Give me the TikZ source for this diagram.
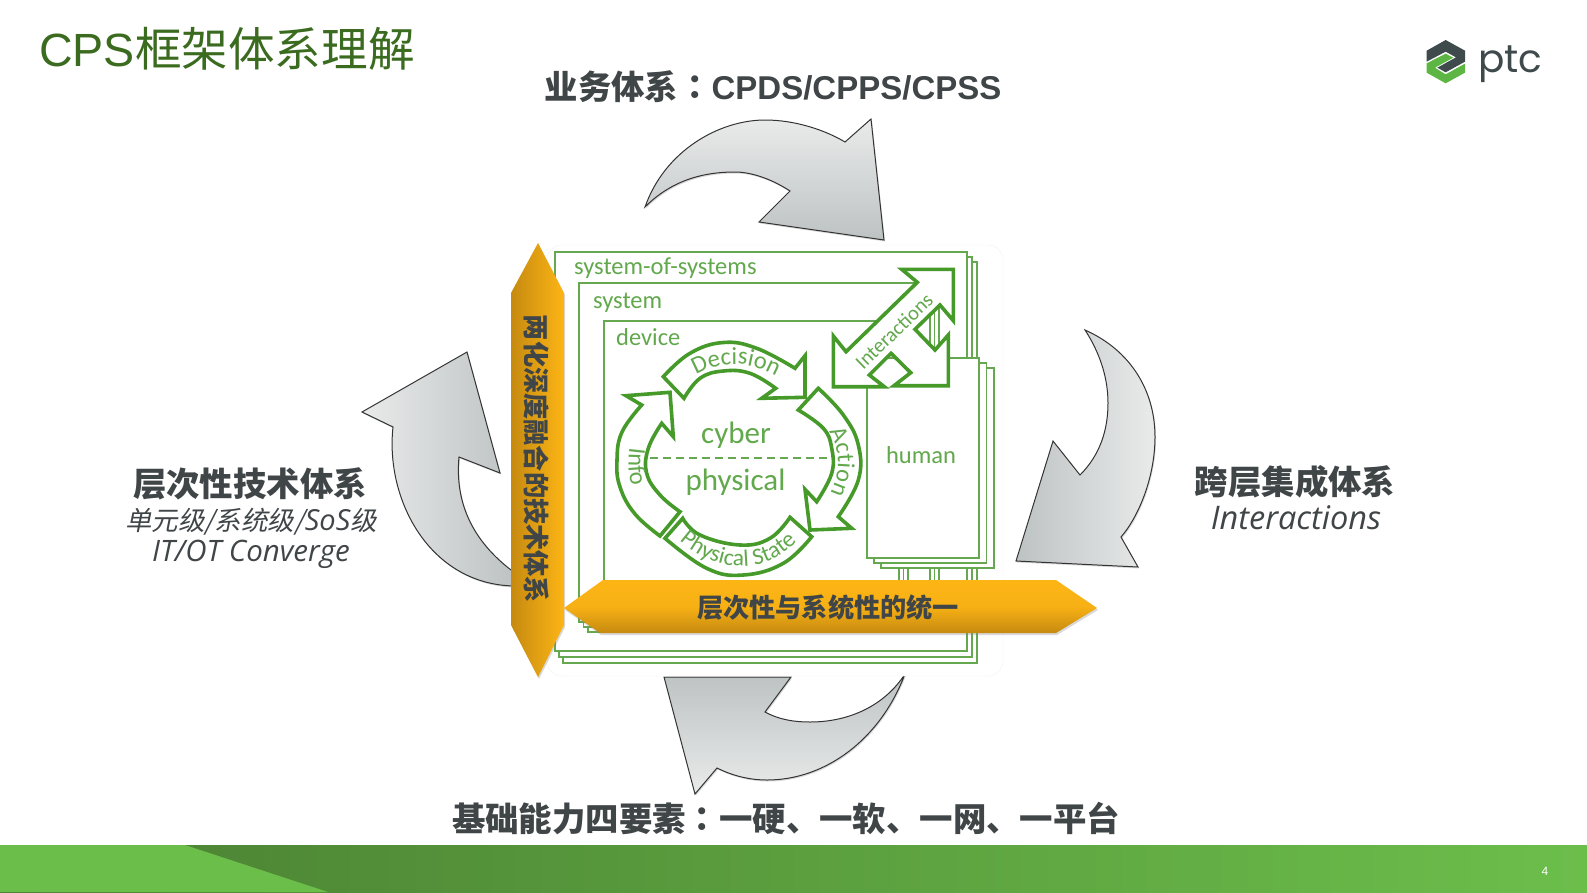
\documentclass[tikz,border=0pt]{standalone}
\usepackage{fontspec}
\setmainfont{Liberation Sans}
\newfontfamily\cjk{Noto Sans CJK SC}
\newfontfamily\cjktc{Noto Sans CJK TC}
\newfontfamily\cjkit[AutoFakeSlant=0.2]{Noto Sans CJK SC}
\newfontfamily\carlito{Carlito}
\newfontfamily\openit{Open Sans}
\newfontfamily\logofont{Poppins}
\usetikzlibrary{shadows,decorations.text}
\definecolor{titlegreen}{HTML}{3B6B1F}
\definecolor{headgrey}{HTML}{404547}
\definecolor{boxgreen}{HTML}{66A84F}
\definecolor{loopgreen}{HTML}{459A2A}
\definecolor{labelgreen}{HTML}{62A84C}
\definecolor{bandbright}{HTML}{FDB515}
\definecolor{banddark}{HTML}{C68A10}
\definecolor{arrowlight}{HTML}{E9EBEA}
\definecolor{arrowdark}{HTML}{BDC2C3}
\definecolor{footlight}{HTML}{6CBE4B}
\definecolor{footdark}{HTML}{4A7F32}
\definecolor{logodark}{HTML}{3F4A4C}
\definecolor{logogreen}{HTML}{5DB543}
\tikzset{
	greyarrow/.style={draw=black!80,line width=1pt,drop shadow={opacity=.3,shadow xshift=1pt,shadow yshift=-1.5pt}},
	bandarrow/.style={drop shadow={opacity=.3,shadow xshift=1pt,shadow yshift=-2pt}},
	stackbox/.style={draw=boxgreen,fill=white,line width=1.4pt},
	humanbox/.style={draw=boxgreen,fill=white,line width=1.1pt},
	loopshape/.style={draw=loopgreen,fill=white,line width=3.6pt,line join=miter},
	arcs/.style={smooth,tension=.7},
	boxlabel/.style={anchor=base west,text=labelgreen,font=\carlito\fontsize{24.5}{24.5}\selectfont},
	corelabel/.style={anchor=base,text=labelgreen,font=\carlito\fontsize{31}{31}\selectfont},
	headlabel/.style={text=headgrey,font=\cjk\bfseries\fontsize{33.4}{33.4}\selectfont},
	sublabel/.style={text=headgrey,font=\cjkit\itshape\fontsize{26.5}{26.5}\selectfont},
	bandlabel/.style={text=headgrey,font=\cjk\bfseries\fontsize{26.2}{26.2}\selectfont},
}
\newcommand{\arcfont}{\carlito\fontsize{24.5}{24.5}\selectfont\color{labelgreen}}
\newcommand{\stfont}{\carlito\fontsize{23.5}{23.5}\selectfont\color{labelgreen}}
\begin{document}
\begin{tikzpicture}[x=1pt,y=-1pt]
	\useasboundingbox (0,0) rectangle (1587,892);
	%footer
	\shade[left color=footdark,right color=footlight] (0,845) rectangle (1587,892);
	\fill[footlight] (0,845) -- (185,845) -- (328,892) -- (0,892) -- cycle;
	\node[text=white,font=\fontsize{12}{12}\selectfont] (pagenum) at (1545,871) {4};
	%title
	\node[anchor=base west,inner sep=0pt,text=titlegreen,font=\fontsize{46.6}{46.6}\selectfont] (title) at (39,66) {CPS{\cjk 框架体系理解}};
	%logo
	\begin{scope}[shift={(1380,20)},x=.3333pt,y=-.3333pt]
		\fill[logodark] (197,60) -- (255,92) -- (255,125) -- (197,157) -- (172,143) -- (228,112) -- (197,95) -- (140,125) -- (140,92) -- cycle;
		\fill[logogreen] (140,130) -- (197,101) -- (220,113) -- (165,143) -- (197,163) -- (255,131) -- (255,158) -- (197,190) -- (140,158) -- cycle;
	\end{scope}
	\node[anchor=base west,inner sep=0pt,text=logodark,font=\logofont\fontsize{39}{39}\selectfont] (ptc) at (1478,72) {ptc};
	%grey arrows
	\shade[greyarrow,top color=arrowlight,bottom color=arrowdark] (645,207) .. controls (665,150) and (720,120) .. (765,120) .. controls (795,120) and (825,130) .. (845,142) -- (871,119) -- (884,240) -- (759,222) -- (790,191) .. controls (770,178) and (750,172) .. (735,172) .. controls (700,172) and (670,182) .. (645,207) -- cycle;
	\shade[greyarrow,left color=arrowdark,right color=arrowlight] (1085,330) .. controls (1130,350) and (1155,390) .. (1155,437) .. controls (1155,475) and (1140,515) .. (1121,537) -- (1138,567) -- (1016,561) -- (1053,441) -- (1080,475) .. controls (1100,455) and (1108,430) .. (1108,403) .. controls (1108,375) and (1098,350) .. (1085,330) -- cycle;
	\shade[greyarrow,top color=arrowdark,bottom color=arrowlight] (905,674) .. controls (880,740) and (825,780) .. (767,780) .. controls (750,780) and (733,776) .. (717,768) -- (695,794) -- (664,677) -- (791,677) -- (765,712) .. controls (780,720) and (795,722) .. (810,722) .. controls (850,722) and (885,705) .. (905,674) -- cycle;
	\shade[greyarrow,left color=arrowlight,right color=arrowdark] (467,352) -- (500,473) -- (459,457) .. controls (455,500) and (470,540) .. (515,573) -- (515,586) .. controls (430,585) and (385,500) .. (393,427) -- (362,412) -- cycle;
	%panel
	\draw[black!5,fill=white,rounded corners=15pt] (547,245) rectangle (1003,676);
	%stacked boxes, back to front
	\foreach \i in {2,1,0}
		\draw[stackbox] (555+4*\i,252+5*\i) rectangle (967+5*\i,651+6*\i);
	\foreach \i in {2,1,0}
		\draw[stackbox] (579+4.5*\i,283+5*\i) rectangle (930+4.5*\i,622+5*\i);
	\foreach \i in {2,1,0}
		\draw[stackbox] (604+4.5*\i,321+5*\i) rectangle (899+4.5*\i,600+5*\i);
	\foreach \i in {2,1,0}
		\draw[humanbox] (867+7*\i,358+5*\i) rectangle (979+7.5*\i,558+5*\i);
	\node[boxlabel,inner sep=0pt] (sos) at (574,274.5) {system-of-systems};
	\node[boxlabel,inner sep=0pt] (sys) at (593,308) {system};
	\node[boxlabel,inner sep=0pt] (dev) at (616,345) {device};
	\node[boxlabel,inner sep=0pt,anchor=base] (human) at (921,463) {human};
	%interactions
	\draw[loopshape] (901.7,269.3) -- (953.3,269.3) -- (953.3,320.7) -- (940,305) -- (915,329.3) -- (935,350) -- (948.3,335) -- (948.3,385.7) -- (894,385.7) -- (910.7,372.7) -- (891,353.3) -- (869.3,375) -- (884.3,386.7) -- (833.3,386.7) -- (833.3,336) -- (846,351.7) -- (917.3,282.3) -- cycle;
	\node[text=labelgreen,rotate=44,font=\carlito\fontsize{20.5}{20.5}\selectfont] (inter) at (894,331) {Interactions};
	%loop
	\draw[loopshape] plot[arcs] coordinates {(663.3,376.7) (690,353.3) (723.3,342.5) (756.7,348.3) (795,368.3)} -- (805,355.7) -- (805,397.3) -- (761.7,398.3) -- plot[arcs] coordinates {(775.7,388.3) (750,373.3) (723.3,371) (700,378.3) (684,398.3)} -- cycle;
	\draw[loopshape] plot[arcs] coordinates {(818.3,388.3) (843.3,415) (858.3,445) (858.3,480) (838.3,516.7)} -- (851.7,528.3) -- (810,530) -- (805,489.3) -- plot[arcs] coordinates {(816.7,501.7) (831.7,473.3) (831.7,448.3) (823.3,428.3) (798.3,410)} -- cycle;
	\draw[loopshape] plot[arcs] coordinates {(682.7,518.3) (700,535) (740,545) (770,538.3) (790,517.3)} -- plot[arcs] coordinates {(811.7,536.7) (783.3,563.3) (743.3,575) (706.7,568.3) (665,538.3)} -- cycle;
	\draw[loopshape] plot[arcs] coordinates {(660,536) (635,514) (620,487) (617,460) (622,432) (641.7,405)} -- (626,395.7) -- (670,392.3) -- (673.3,436.7) -- plot[arcs] coordinates {(661.7,423.3) (648.3,448.3) (646.7,473.3) (660,495) (680,511.7)} -- cycle;
	\path[decorate,decoration={text along path,text align=center,text={|\arcfont|Decision}}] (688,381) .. controls (700,370) and (718,364) .. (735,364) .. controls (752,364) and (770,371) .. (785,381);
	\path[decorate,decoration={text along path,text align=center,text={|\arcfont|Action}}] (815,415) .. controls (830,430) and (838,445) .. (838,462) .. controls (838,480) and (830,495) .. (820,512);
	\path[decorate,decoration={text along path,text align=center,text={|\stfont|Physical State}}] (668,529) .. controls (690,554) and (715,566) .. (742,566) .. controls (770,566) and (790,551) .. (808,529);
	\path[decorate,decoration={text along path,text align=center,text={|\arcfont|Info}}] (634,430) .. controls (630,440) and (628.5,452) .. (628.5,464) .. controls (628.5,478) and (632,490) .. (638,503);
	\draw[boxgreen,line width=1.2pt,dash pattern=on 8pt off 5pt] (650,458) -- (830,458);
	\node[corelabel] (cyber) at (736,443.5) {cyber};
	\node[corelabel] (phys) at (735.5,490) {physical};
	%orange bands
	\shade[bandarrow,left color=banddark,right color=bandbright] (538,243) -- (564,293) -- (564,625) -- (538,677) -- (511,625) -- (511,293) -- cycle;
	\shade[bandarrow,top color=bandbright,bottom color=banddark,middle color=bandbright!90!banddark] (564,608) -- (603,580) -- (1056,580) -- (1097,608) -- (1056,633) -- (600,633) -- cycle;
	\node[bandlabel,rotate=-90] (vband) at (537,459) {两化深度融合的技术体系};
	\node[bandlabel] (hband) at (828,608) {层次性与系统性的统一};
	%headings
	\node[headlabel] (htop) at (773,87) {业务体系{\cjktc ：}{\rmfamily\bfseries\fontsize{33}{33}\selectfont CPDS/CPPS/CPSS}};
	\node[headlabel] (hbottom) at (786,818) {基础能力四要素{\cjktc ：}一硬、一软、一网、一平台};
	\node[headlabel] (hleft) at (250,484) {层次性技术体系};
	\node[sublabel] (sleft) at (251,522) {单元级/系统级/{\openit\itshape\fontsize{29}{29}\selectfont SoS}级};
	\node[sublabel] (tleft) at (251,554) {\openit\itshape\fontsize{29.5}{29.5}\selectfont IT/OT Converge};
	\node[headlabel] (hright) at (1295,482) {跨层集成体系};
	\node[sublabel] (sright) at (1296,518) {\openit\itshape\fontsize{32.5}{32.5}\selectfont Interactions};
\end{tikzpicture}
\end{document}
